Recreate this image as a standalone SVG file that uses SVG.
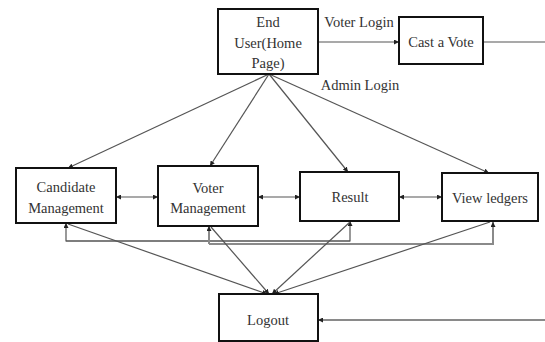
<svg xmlns="http://www.w3.org/2000/svg" width="545" height="342" viewBox="0 0 545 342">
<style>
.box{fill:#fff;stroke:#111;stroke-width:2}
.t{font-family:"Liberation Serif","Times New Roman",serif;font-size:14.5px;fill:#333;text-anchor:middle;dominant-baseline:central}
.c{fill:none;stroke:#555;stroke-width:1.2}
.g{fill:none;stroke:#8a8a8a;stroke-width:2}
</style>
<defs>
<marker id="a" viewBox="0 0 10 10" refX="10" refY="5" markerWidth="5" markerHeight="5" orient="auto-start-reverse" markerUnits="userSpaceOnUse"><path d="M0,0L10,5L0,10z" fill="#222"/></marker>
</defs>
<rect width="545" height="342" fill="#fff"/>
<g id="connectors">
<line class="c" x1="318" y1="42" x2="399" y2="42" marker-end="url(#a)"/>
<line class="c" x1="483" y1="42" x2="545" y2="42"/>
<line class="c" x1="269" y1="74" x2="68" y2="168" marker-end="url(#a)"/>
<line class="c" x1="269" y1="74" x2="210" y2="166" marker-end="url(#a)"/>
<line class="c" x1="269" y1="74" x2="348" y2="172" marker-end="url(#a)"/>
<line class="c" x1="269" y1="74" x2="489" y2="173" marker-end="url(#a)"/>
<line class="c" x1="116" y1="197" x2="158" y2="197" marker-start="url(#a)" marker-end="url(#a)"/>
<line class="c" x1="258" y1="197" x2="300" y2="197" marker-start="url(#a)" marker-end="url(#a)"/>
<line class="c" x1="399" y1="197" x2="442" y2="197" marker-start="url(#a)" marker-end="url(#a)"/>
<polyline class="c" points="350,241 66,241 66,223" marker-end="url(#a)"/>
<polyline class="c" points="66,241 350,241 350,221" marker-end="url(#a)"/>
<polyline class="g" points="209,244 209,226" marker-end="url(#a)"/>
<polyline class="g" points="209,244 493,244 493,222" marker-end="url(#a)"/>
<line class="c" x1="68" y1="224" x2="267" y2="294" marker-end="url(#a)"/>
<line class="c" x1="211" y1="227" x2="269" y2="294" marker-end="url(#a)"/>
<line class="c" x1="350" y1="222" x2="272" y2="294" marker-end="url(#a)"/>
<line class="c" x1="490" y1="222" x2="274" y2="294" marker-end="url(#a)"/>
<line class="g" x1="545" y1="320" x2="318" y2="320" marker-end="url(#a)"/>
</g>
<g id="enduser"><rect class="box" x="218" y="9" width="100" height="65"/><text class="t" x="268" y="22">End</text><text class="t" x="268" y="43">User(Home</text><text class="t" x="268" y="63">Page)</text></g>
<g id="castvote"><rect class="box" x="399" y="17" width="84" height="47"/><text class="t" x="441" y="42">Cast a Vote</text></g>
<g id="labels"><text class="t" x="359" y="22">Voter Login</text><text class="t" x="360" y="85">Admin Login</text></g>
<g id="candidate"><rect class="box" x="16" y="168" width="100" height="55"/><text class="t" x="66" y="187">Candidate</text><text class="t" x="66" y="208">Management</text></g>
<g id="voter"><rect class="box" x="158" y="166" width="100" height="60"/><text class="t" x="208" y="188">Voter</text><text class="t" x="208" y="208">Management</text></g>
<g id="result"><rect class="box" x="300" y="172" width="99" height="49"/><text class="t" x="350" y="197">Result</text></g>
<g id="ledgers"><rect class="box" x="442" y="173" width="96" height="48"/><text class="t" x="490" y="198">View ledgers</text></g>
<g id="logout"><rect class="box" x="219" y="294" width="99" height="47"/><text class="t" x="268" y="320">Logout</text></g>
</svg>
